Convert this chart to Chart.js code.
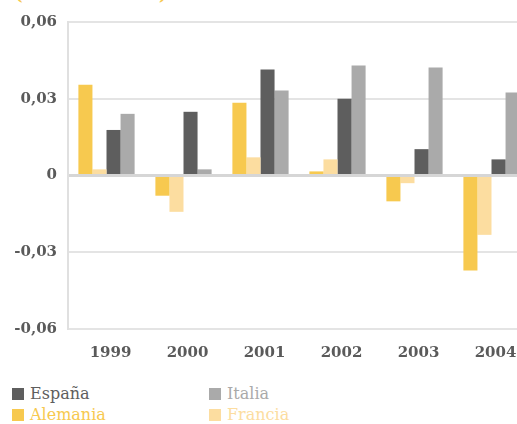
<!DOCTYPE html>
<html>
<head>
<meta charset="utf-8">
<script src="https://cdn.jsdelivr.net/npm/chart.js@4.4.1/dist/chart.umd.min.js"></script>
<style>
  body { margin: 0; overflow: hidden; background: #fff; font-family: 'DejaVu Serif', serif; }
  #wrap { position: relative; width: 517px; height: 424px; overflow: hidden; }
  #title { position: absolute; left: 15px; top: -15px; font-size: 16px; font-weight: bold; color: #F7C94F; white-space: nowrap; }
  #chart-box { position: absolute; left: 0; top: 0; }
  #legend { position: absolute; left: 12px; top: 383px; display: grid; grid-template-columns: 197px 197px; grid-auto-rows: 21px; font-size: 16px; }
  .item { display: flex; align-items: center; }
  .box { width: 12px; height: 12px; margin-right: 6px; }
</style>
</head>
<body>
<div id="wrap">
  <div id="title">(tasa interanual)</div>
  <div id="chart-box"><canvas id="bars" width="530" height="377"></canvas></div>
  <div id="legend"></div>
</div>
<script>
// years on the x axis
const years = ['1999', '2000', '2001', '2002', '2003', '2004'];

// values
const alemania = [0.0355, -0.0079, 0.0284, 0.0016, -0.0101, -0.0371];
const francia = [0.0024, -0.0142, 0.0071, 0.0063, -0.0030, -0.0232];
const espana = [0.0178, 0.0249, 0.0414, 0.0300, 0.0103, 0.0063];
const italia = [0.0241, 0.0024, 0.0332, 0.0430, 0.0422, 0.0324];

// y axis ticks
const yTicks = [-0.06, -0.03, 0, 0.03, 0.06];
const yTickLabels = ['-0,06', '-0,03', '0', '0,03', '0,06'];

const colors = {
  'Alemania': '#F7C94F',
  'Francia': '#FCDDA0',
  'España': '#5E5E5E',
  'Italia': '#AAAAAA'
};
const legendOrder = ['España', 'Italia', 'Alemania', 'Francia'];

const tickFont = { family: 'DejaVu Serif', size: 15, weight: 'bold' };

const ctx = document.getElementById('bars');
const barChart = new Chart(ctx, {
  type: 'bar',
  data: {
    labels: years,
    datasets: [
      { label: 'Alemania', data: alemania, backgroundColor: colors['Alemania'] },
      { label: 'Francia', data: francia, backgroundColor: colors['Francia'] },
      { label: 'España', data: espana, backgroundColor: colors['España'] },
      { label: 'Italia', data: italia, backgroundColor: colors['Italia'] }
    ]
  },
  options: {
    responsive: false,
    animation: false,
    layout: { padding: { top: 22, left: 0, right: 0, bottom: 0 } },
    datasets: { bar: { categoryPercentage: 0.73, barPercentage: 1.0 } },
    plugins: {
      legend: { display: false },
      tooltip: { enabled: false }
    },
    scales: {
      x: {
        grid: { display: false, drawTicks: false },
        border: { display: false },
        ticks: {
          color: '#5a5a5a',
          padding: 15,
          labelOffset: 4,
          font: tickFont
        }
      },
      y: {
        min: -0.06,
        max: 0.06,
        afterBuildTicks: (axis) => { axis.ticks = yTicks.map(v => ({ value: v })); },
        afterFit: (axis) => { axis.width = 68; },
        grid: {
          drawTicks: false,
          color: c => (c.tick && c.tick.value === 0) ? '#d6d6d6' : '#e4e4e4',
          lineWidth: c => (c.tick && c.tick.value === 0) ? 3 : 2
        },
        border: { display: true, color: '#e0e0e0', width: 2 },
        ticks: {
          color: '#5a5a5a',
          padding: 11,
          font: tickFont,
          callback: (value, i) => yTickLabels[i]
        }
      }
    }
  }
});

// legend in two columns, text in the series colour
const legendEl = document.getElementById('legend');
legendOrder.forEach(name => {
  const item = document.createElement('div');
  item.className = 'item';
  item.innerHTML = '<span class="box" style="background:' + colors[name] + '"></span>' +
    '<span style="color:' + colors[name] + '">' + name + '</span>';
  legendEl.appendChild(item);
});
</script>
</body>
</html>
